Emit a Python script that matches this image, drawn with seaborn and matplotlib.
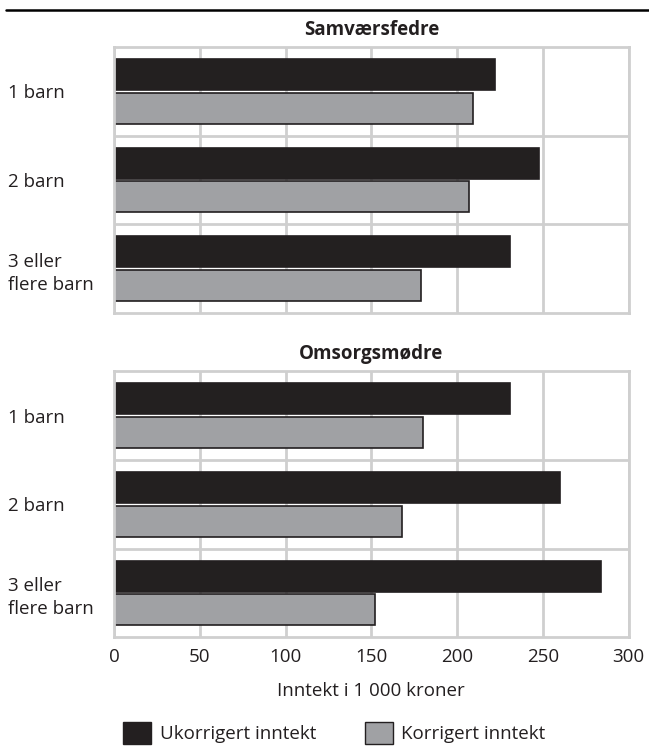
import pandas as pd
import seaborn as sns
import matplotlib.pyplot as plt
from matplotlib.patches import Patch
from matplotlib.lines import Line2D

# Data
groups = ['1 barn', '2 barn', '3 eller\nflere barn']
series = ['Ukorrigert inntekt', 'Korrigert inntekt']
fedre_ukorr = [222, 248, 231]
fedre_korr = [209, 207, 179]
modre_ukorr = [231, 260, 284]
modre_korr = [180, 168, 152]
x_ticks = [0, 50, 100, 150, 200, 250, 300]

colors = {'Ukorrigert inntekt': '#231f20', 'Korrigert inntekt': '#a0a1a4'}
grid_col = '#cfcfcf'
txt_col = '#231f20'
fs = 13.5


def long_table(ukorr, korr):
    rows = []
    for g, u, k in zip(groups, ukorr, korr):
        rows.append({'Gruppe': g, 'Serie': series[0], 'Inntekt': u})
        rows.append({'Gruppe': g, 'Serie': series[1], 'Inntekt': k})
    return pd.DataFrame(rows)


sns.set_style('white')
plt.rcParams['font.family'] = ['Open Sans', 'DejaVu Sans']

fig = plt.figure(figsize=(6.49, 7.47), dpi=100)
ax_top = fig.add_axes([0.1757, 0.581, 0.793, 0.356])
ax_bot = fig.add_axes([0.1757, 0.147, 0.793, 0.356])

panels = [(ax_top, 'Samværsfedre', fedre_ukorr, fedre_korr),
          (ax_bot, 'Omsorgsmødre', modre_ukorr, modre_korr)]

for ax, title, uk, ko in panels:
    df = long_table(uk, ko)
    sns.barplot(data=df, y='Gruppe', x='Inntekt', hue='Serie', orient='h',
                palette=colors, width=0.76, gap=0.08, ax=ax, legend=False,
                edgecolor=txt_col, linewidth=1.2)
    ax.set_xlim(0, 300)
    ax.set_ylim(2.5, -0.5)
    ax.set_xticks(x_ticks)
    ax.set_yticks(range(len(groups)))
    ax.set_yticklabels(groups)
    ax.set_yticks([0.5, 1.5], minor=True)
    ax.grid(axis='x', which='major', color=grid_col, linewidth=2)
    ax.grid(axis='y', which='minor', color=grid_col, linewidth=2)
    ax.set_axisbelow(True)
    for s in ax.spines.values():
        s.set_color(grid_col)
        s.set_linewidth(2)
    ax.tick_params(axis='both', which='both', length=0)
    ax.tick_params(axis='y', pad=76, labelsize=fs, colors=txt_col)
    for lab in ax.get_yticklabels():
        lab.set_ha('left')
        lab.set_linespacing(1.35)
    ax.set_ylabel('')
    ax.set_title(title, fontsize=fs, fontweight='bold', color=txt_col, pad=9)

ax_top.set_xlabel('')
ax_top.set_xticklabels([])
ax_bot.tick_params(axis='x', labelsize=fs, colors=txt_col, pad=8)
ax_bot.set_xlabel('Inntekt i 1 000 kroner', fontsize=fs, color=txt_col, labelpad=11)

# top rule
fig.add_artist(Line2D([0.009, 1.0], [0.987, 0.987], color='black', linewidth=1.8,
                      transform=fig.transFigure))

handles = [Patch(facecolor=colors[s], edgecolor=txt_col, linewidth=1) for s in series]
fig.legend(handles, series, loc='center', bbox_to_anchor=(0.515, 0.019), ncol=2,
           frameon=False, fontsize=fs, handlelength=1.5, handleheight=1.4,
           columnspacing=2.6, handletextpad=0.45, labelcolor=txt_col)

fig.savefig('out.png', dpi=100)
